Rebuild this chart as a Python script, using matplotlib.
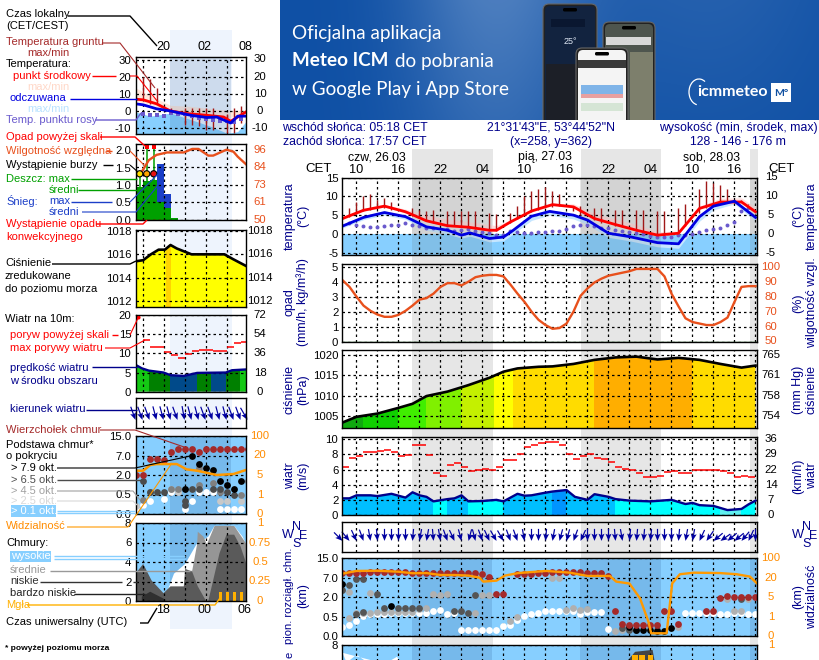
import numpy as np
import matplotlib
matplotlib.use('Agg')
import matplotlib.pyplot as plt
from matplotlib.patches import Rectangle, FancyBboxPatch, Polygon, Arc

plt.rcParams['font.family'] = ['Liberation Sans', 'DejaVu Sans']
plt.rcParams['font.size'] = 8.2
W, H = 820, 660

NAVY = '#00008b'; RED = '#ff0000'; BLUE = '#0000e0'; BROWN = '#a52a2a'
ORANGE_RED = '#e8501c'; ORANGE = '#ff8c00'; SKY = '#87cfff'; GREEN = '#00a000'

# ---------- main panel data (hours since 26.03 00:00 CET)
hours_long = list(range(8, 68))
temp_t = [8, 11, 14, 17, 20, 23, 26, 29, 30, 32, 35, 38, 41, 44, 47, 50, 53, 56, 59, 62, 65, 67]
temp_mid = [4.1, 6.3, 7.4, 5.9, 3.5, 2.2, 1.8, 1.0, 1.0, 3.2, 6.1, 7.8, 7.2, 4.1, 2.5, 1.0, -0.3, 0.2, 6.8, 8.5, 8.5, 5.9]
temp_hi = [4.6, 6.8, 7.8, 6.6, 5.0, 3.9, 3.3, 2.5, 2.2, 3.8, 6.6, 8.2, 8.0, 5.5, 4.0, 2.5, 0.6, 0.8, 7.4, 9.5, 9.6, 7.0]
temp_lo = [3.8, 6.0, 7.2, 5.5, 3.2, 2.0, 1.5, 0.8, 0.7, 3.0, 5.8, 7.5, 7.0, 3.9, 2.3, 0.8, -0.5, 0.0, 6.5, 8.0, 8.0, 5.6]
feel_t = [8, 11, 14, 17, 20, 23, 25, 26.2, 29, 31, 32.4, 35, 37.6, 41, 43, 46, 49, 53, 56, 59, 61, 64, 67]
feel = [2.1, 4.4, 5.7, 4.6, 1.9, 1.0, -0.3, 0.3, -1.2, -0.8, 1.0, 4.7, 6.0, 5.0, 3.7, 0.2, -0.7, -2.3, -2.6, 4.6, 7.4, 8.7, 4.4]
feel_hi = [2.5, 4.8, 6.1, 5.0, 2.3, 1.3, 0.2, 0.7, -0.8, -0.4, 1.4, 5.1, 6.4, 5.4, 4.1, 0.6, -0.3, -1.9, -2.2, 5.0, 7.8, 9.1, 4.8]
feel_lo = [1.6, 3.8, 5.0, 3.9, 1.0, 0.0, -1.1, -0.6, -2.1, -1.8, 0.0, 3.6, 5.0, 4.0, 2.5, -0.9, -1.8, -3.4, -3.8, 3.4, 6.4, 8.0, 3.4]
dew_t = [9, 10, 11, 12, 13, 14, 15, 16, 17, 18, 19, 20, 21, 23, 24, 25, 26, 27, 28, 29, 30, 31, 32, 33, 34, 35, 36, 37,
         38, 39, 40, 41, 42, 43, 44, 45, 46, 47, 48, 49, 50, 51, 52, 53, 54, 55, 56, 57, 58, 59, 60, 61, 62, 63, 64, 65, 66]
dew = [3.0, 2.5, 2.0, 1.9, 1.9, 2.0, 2.3, 2.5, 2.8, 2.5, 2.1, 1.5, 1.5, 1.3, 0.9, 1.1, 1.2, 0.9, 0.6, 0.2, -0.3, -0.3, 0.9, 0.6, 0.2, 0.2, 0.4, 0.6,
       0.7, 0.9, 1.3, 2.1, 2.5, 2.3, 2.1, 1.7, 1.5, 1.0, 0.7, 0.6, 0.2, -0.1, -0.4, -0.7, -0.9, -0.7, -0.3, -0.3, -0.1, 0.6, 1.0, 1.3, 1.7, 2.4, 3.2, 6.0, 6.8]
ground_t = [9, 10, 11, 12, 13, 14, 15, 18, 19, 20, 21, 23, 24, 25, 26, 27, 29, 30, 32, 33, 34, 35, 36, 37, 38, 39, 41, 42, 44, 45, 47, 48, 50, 51, 53, 54, 56, 57, 59, 60, 61, 62, 63, 64, 65, 66]
ground_max = [7, 8.5, 10, 10.5, 9, 9.5, 8.5, 7, 6.5, 6, 6.3, 6.2, 6, 6, 6, 6, 5.5, 5.3, 5.5, 7.5, 10, 11.5, 12, 12.5, 11.5, 10.5, 7.5, 7.5, 7, 7, 6.5, 6.5, 6.5, 6.5, 6, 6, 7, 8, 12, 14, 13.5, 13, 12, 9, 9, 8]
ground_min = [4.5, 5.5, 6, 6.5, 7, 7, 6.5, 4.8, 4.2, 3.6, 3, 2.2, 2, 1.8, 1.7, 1.4, 0.8, 0.8, 3, 4, 5, 5.8, 6.4, 7, 7.3, 7.4, 6, 5, 3.6, 3, 2.2, 1.8, 0.8, 0.4, -0.4, -0.4, 0.6, 2, 5.6, 6.8, 7.6, 8.2, 8.6, 8.6, 8.4, 7.6]
rh_t = list(range(8, 68))
rh_scaled = [4.1, 3.65, 3.0, 2.4, 2.05, 1.8, 1.65, 1.65, 1.78, 2.05, 2.4, 2.8, 2.9, 3.2, 3.65, 3.9, 3.9, 3.75, 4.0, 4.3, 4.4, 4.45, 4.45, 4.35, 3.8, 3.2, 2.65, 2.0, 1.45, 1.1, 0.85, 0.9, 1.2, 2.0, 3.05, 3.55, 3.95, 4.2, 4.4, 4.5, 4.6, 4.7, 4.85, 4.85, 4.85, 4.85, 4.35, 3.2, 2.35, 1.55, 1.3, 1.2, 1.1, 1.1, 1.3, 1.6, 2.65, 3.65, 3.7, 3.7]
press_t = [8, 10, 13, 16, 18, 20, 23, 26, 29, 31, 33, 36, 38, 41, 44, 47, 50, 53, 56, 59, 62, 65, 67]
press = [1003.4, 1004.8, 1005.6, 1007, 1008, 1009.9, 1011, 1012.6, 1014.4, 1015.9, 1016.7, 1017.1, 1017.2, 1017.8, 1018.8, 1019.4, 1019.6, 1018.9, 1019.3, 1018.8, 1017.8, 1016.9, 1017.4]
press_band_edges = [8, 11, 16, 20, 25, 29.6, 32.4, 44, 58, 67.3]
press_band_colors = ['#10a810', '#10d000', '#40ee00', '#80f000', '#c4f000', '#ffff00', '#ffdc00', '#ffae00', '#ffdc00']
wind_t = [8, 9, 10, 12, 13, 15, 17, 18, 19, 20, 21, 23, 24, 25, 26, 28, 30, 31, 33, 34, 35, 37, 38, 40, 41.2, 43, 44, 46, 47, 49, 52, 55, 57, 58, 59, 61, 63, 65, 66, 67]
wind = [2.2, 2.2, 2.6, 2.6, 2.5, 2.8, 2.3, 3.0, 2.6, 2.4, 1.8, 2.1, 2.2, 2.6, 1.8, 1.85, 2.0, 1.8, 2.8, 2.55, 2.6, 2.95, 3.1, 3.3, 2.4, 2.0, 2.75, 2.4, 2.1, 1.9, 1.8, 2.0, 1.45, 1.6, 1.3, 1.2, 0.65, 0.8, 1.4, 1.9]
wind_band_edges = [8, 21, 23, 26, 31, 38, 40, 47, 62, 65, 67.3]
wind_band_colors = ['#00bfff', '#00ffff', '#00bfff', '#00ffff', '#00bfff', '#0094ff', '#00bfff', '#00ffff', '#60f0f0', '#00ffff']
gust_t = list(range(8, 67))
gust = [6.4, 7.5, 7.8, 8.3, 8.3, 8.4, 8.6, 8.3, 7.8, 7.9, 9.3, 9.3, 7.9, 5.6, 5.1, 6.6, 6.9, 6.4, 5.8, 5.9, 6.1, 5.9, 6.4, 7.2, 7.2, 8.0, 9.0, 9.3, 9.5, 9.6, 9.6, 9.3, 8.1, 7.4, 7.8, 8.0, 7.5, 7.4, 7.0, 6.4, 6.1, 6.0, 5.6, 5.0, 5.0, 5.1, 5.7, 5.8, 5.5, 5.5, 5.9, 6.0, 6.0, 6.0, 5.8, 5.5, 5.0, 5.1, 5.0]
wind_dir = [315, 320, 335, 340, 350, 355, 0, 0, 0, 0, 5, 10, 10, 355, 350, 340, 335, 345, 15, 345, 340, 335, 330, 330, 340, 340, 350, 0, 0, 5, 10, 15, 15, 20, 25, 0, 0, 0, 0, 355, 350, 5, 5, 5, 5, 0, 0, 0, 5, 10, 10, 25, 35, 50, 55, 50, 50, 40, 25, 0]
tops_t = list(range(8, 30)) + [30, 31] + list(range(33, 57)) + [60, 61, 62, 63, 64, 65, 66, 67]
tops = [3.23, 3.22, 3.23, 3.26] + [3.3] * 6 + [3.24] * 9 + [3.24, 3.18, 3.06] + [2.16, 2.16] + [3.18, 3.18, 3.21, 3.26, 3.26] + [3.28, 3.28, 3.28, 3.31, 3.31, 3.26, 3.24, 3.23, 3.11, 1.27, 0.6, 0.55, 0.55, 0.55, 0.55, 0.55, 1.27, 1.27, 0.6] + [1.29, 1.29, 1.94, 2.04, 2.03, 2.03, 2.03, 2.03]
base_white_t = list(range(8, 25)) + [25, 26, 27, 28, 29, 30, 31, 32, 33, 34, 35, 36, 37, 38, 39, 40, 41, 42, 43, 44, 45, 46, 57, 58, 59, 60, 61, 62, 63, 64, 65, 66, 67]
base_white = [0.48, 0.57, 0.77, 1.01, 1.12, 1.12, 1.15, 1.17, 1.18, 1.18, 1.18, 1.18, 1.18, 1.29, 1.36, 1.15, 1.18, 0.29, 0.29, 0.29, 0.29, 0.29, 0.29, 0.53, 0.57, 0.82, 1.03, 1.15, 1.18, 1.30, 1.30, 1.30, 1.30, 1.30, 1.15, 1.25, 1.22, 1.22, 0.34, 1.18, 1.18, 1.18, 1.18, 1.18, 1.12, 1.12, 1.18, 1.19, 1.13, 1.13]
base_light_t = [8, 9, 9, 10, 11, 12, 12, 13, 14, 15, 16, 17, 18, 19, 20, 21, 22, 23, 27, 28, 29, 32, 33, 38, 39, 40, 41, 42, 43, 47, 48, 56, 63, 64, 65, 66]
base_light = [2.36, 2.28, 0.91, 1.19, 1.2, 2.21, 1.2, 1.25, 1.25, 1.25, 1.25, 1.25, 1.25, 1.39, 1.42, 2.18, 2.12, 2.15, 1.18, 2.11, 2.11, 0.79, 0.99, 3.01, 3.01, 1.34, 1.44, 1.34, 1.39, 0.27, 0.31, 0.48, 1.91, 1.29, 1.29, 1.91]
base_dark_t = [8, 9, 10, 11, 10, 11, 13, 14, 16, 17, 18, 19, 24, 25, 26, 27, 48, 49, 50, 53, 65]
base_dark = [2.36, 2.63, 2.94, 2.94, 1.12, 1.22, 2.15, 1.42, 1.42, 1.42, 1.42, 1.42, 1.29, 1.29, 1.20, 2.11, 0.39, 0.31, 0.31, 0.31, 1.91]
base_black_t = [8, 15, 49, 50, 51, 52, 53, 54, 55]
base_black = [2.67, 1.52, 0.48, 0.31, 0.31, 0.31, 0.27, 0.27, 0.43]
vis_t = [8, 10, 13, 16, 18, 20, 22, 24, 26, 27.6, 28.1, 30, 31.2, 33.1, 37.1, 40.5, 43, 46.2, 47.1, 49, 50.5, 51.7, 52.1, 54.3, 55.1, 56.2, 58.2, 61.9, 64.3, 66.2, 67.2]
vis = [3.21, 3.35, 3.36, 3.31, 3.23, 3.24, 3.14, 3.14, 3.11, 3.0, 2.8, 2.85, 3.11, 3.24, 3.35, 3.26, 3.09, 3.09, 2.8, 2.7, 1.94, 0.74, 0.14, 0.14, 2.71, 3.18, 3.26, 3.24, 3.18, 3.06, 2.71]
cl_white_t = [8, 8.6, 10, 11.6, 13.4, 14.6, 15.8, 16.2, 13.4]
cl_white = [7.2, 6.2, 7.0, 6.2, 6.2, 6.3, 6.8, 6.2, 6.2]
cl_low_t = [48.6, 49.8, 52.3, 52.6]
cl_low = [6.3, 7.3, 7.5, 6.3]
fog_t = [49.8, 50.8, 52]

# ---------- legend panel data (hours on the small sample axis)
lt_mid_t = [16, 17.1, 19, 21, 23.3, 26.2, 28.6, 29.6, 31.4, 31.8]
lt_mid = [6.9, 6.5, 4.2, 0, -1.5, -2.5, -3.5, -6, -1.5, -0.5]
lt_feel_t = [16, 17.1, 19, 21, 23.9, 26.2, 27.6, 29.6, 30.6, 31.8]
lt_feel = [4.2, 3.6, 1.3, 0, -2.5, -3.8, -3.5, -7, -3, -3]
lt_hi_t = [16, 18.1, 21, 23.9, 26.8, 29.1, 31.8]
lt_hi = [13.5, 9, 3.3, 2.7, 1.3, 0.4, 0.4]
lt_lo = [6, 4, -0.4, -2, -3, -4, -1.5]
lt_coldtop_t = [16, 18.1, 21, 23.9, 26.8, 29.1, 30.6, 31.8]
lt_coldtop = [-0.5, -3, -1.2, -5, -9, -13, -12, -6]
lt_dew_t = [17, 18, 19, 20, 21, 22, 23, 24, 25, 26, 27, 28, 29, 30, 31]
lt_dew = [-1.5, -2.1, -2.5, -2.7, -1.2, -1.5, -1.5, -3.1, -3.8, -4.4, -5.4, -6, -5.8, -6.4, -4.4]
lg_t = [17, 18, 19, 21, 23, 24, 25, 26, 27, 29, 30, 31]
lg_hi = [19.6, 18.6, 13.5, 1.5, 2, 1.5, 2, 1.5, 2, -1.5, 1.5, 2.7]
lg_lo = [7, 4.2, 4.2, -1, -8, -8, -9, -11, -11, -13, -13, -7]
lp_rh_t = [16, 16.9, 17.9, 19, 20.5, 22.9, 24.1, 25, 26.4, 27.1, 29, 30, 30.6, 31.8]
lp_rh = [1.29, 1.38, 1.71, 1.86, 1.93, 1.93, 2.03, 2.03, 1.84, 1.84, 2.01, 1.95, 1.81, 1.59]
lp_t = [16.5, 17.5, 18.5, 19.5, 20.5, 21.5]
lp_rain = [0.95, 1.10, 1.15, 0.52, 0.33, 0.05]
lp_snow = [0, 0, 0, 1.08, 0.42, 0]
lp_max_t = [16.6, 17.6, 18.6]
lp_max = [1.3, 2.05, 2.05]
lpr_t = [16, 17.1, 18.2, 19.3, 20.2, 21, 21.9, 24, 28.7, 29.9, 31.8]
lpr = [1015.4, 1015.5, 1016, 1016.4, 1016.4, 1016.8, 1016.5, 1016, 1016, 1015.6, 1015]
lw_t = [16, 16.9, 17.9, 20, 21, 22.9, 24.8, 28.9, 29.8, 31.8]
lw = [7, 6.1, 5.5, 5, 4.3, 4.1, 4.9, 5, 5.6, 5.8]
lw_edges = [16, 17.9, 20.9, 24.8, 26.8, 28.9, 30.9, 31.8]
lw_colors = ['#14c814', '#008000', '#004a8a', '#008000', '#004a8a', '#008000', '#14c814']
lg_start = [17, 18, 19, 20, 21, 22, 23, 24, 25, 26, 27, 28, 29, 30, 31]
lgust = [13.5, 11.6, 11.6, 10.4, 9.5, 8.7, 9.9, 10.5, 10.8, 10.8, 10.5, 10.5, 11.6, 12.7, 13]
ld_t = list(range(16, 33))
ld_dir = [340, 340, 340, 345, 345, 345, 340, 350, 345, 345, 340, 340, 345, 345, 340, 340, 330]
lc_vis_t = [16, 17.1, 18.1, 19, 21.9, 23.3, 24.8, 27.6, 30, 31.8]
lc_vis = [2.22, 2.22, 2.51, 2.56, 2.56, 2.29, 2.22, 2.0, 2.05, 2.26]
lc_tops_t = list(range(16, 33))
lc_tops = [1.99, 1.99, 2.84, 2.84, 2.77, 3.2, 3.32, 3.32, 3.32, 3.2, 3.32, 3.32, 3.32, 3.32, 3.32, 3.32, 3.32]
lc_white_t = [16, 17, 18, 20, 21, 24, 23, 25, 26, 27, 28, 29, 30, 31]
lc_white = [.24, .46, .68, .75, 1.11, .68, .24, 1.11, 1.11, 1.11, .24, .24, .24, .24]
lc_light_t = [16, 21, 22, 25, 28, 29, 31]
lc_light = [.41, 1.26, 1.11, 1.40, .68, .68, .68]
lc_mid_t = [17, 18, 21, 22, 25, 25, 27, 28, 31, 32]
lc_mid = [.72, 1.11, 1.26, 1.26, 2.34, 1.49, 1.60, 1.11, 1.0, 1.71]
lc_dark_t = [17, 18, 19, 20, 23, 23, 24, 25, 27, 28, 29, 30]
lc_dark = [1.69, 1.11, 1.11, 1.11, .68, .46, 1.26, 1.26, 1.26, 1.26, 1.11, 1.0]
lc_black_t = [23, 24, 25, 26, 27, 28, 29, 30, 31]
lc_black = [1.26, 2.97, 2.55, 2.38, 2.26, 1.71, 1.49, 1.26, 1.71]
lcl_high_t = [20.4, 21.5, 23.1, 24.7, 26.4, 27.3, 30.1, 31.3, 31.8, 31.8, 20.4]
lcl_high = [0.7, 2.8, 3.8, 5.8, 6.6, 7.7, 7.7, 6.6, 5.8, 0, 0]
lcl_mid_t = [23.1, 24.1, 24.8, 24.9, 25.7, 26.2, 27.3, 30.1, 31.8, 31.8, 23.1]
lcl_mid = [3.1, 3.1, 5.8, 7.1, 6.6, 5.8, 7.7, 7.7, 5.9, 0, 0]
lcl_low1_t = [16, 17.1, 18.3, 20, 21, 22.9, 23.1, 24.1, 24.9, 26, 26.4, 16]
lcl_low1 = [2.8, 3.8, 2.1, 0.8, 1.5, 1.5, 3.3, 3, 1.5, 0.1, 0, 0]
lcl_low2_t = [26.4, 28, 29, 30.1, 31, 31.8, 31.8, 26.4]
lcl_low2 = [0, 4.9, 6.8, 6.8, 5.6, 3.9, 0, 0]
lcl_vlow_t = [16.9, 18.1, 20, 20.2, 16.9]
lcl_vlow = [0.45, 0.95, 0.25, 0, 0]
lcl_fog_t = [28.1, 29.1, 30.1, 31.1]

# ---------- labels
rt_ticks = [15, 10, 5, 0, -5]
rp_ticks = [5, 4, 3, 2, 1, 0]
rh_labels = ['100', '90', '80', '70', '60', '50']
pr_ticks = [1020, 1015, 1010, 1005]
mmhg_labels = ['765', '761', '758', '754']
wd_ticks = [10, 8, 6, 4, 2, 0]
kmh_labels = ['36', '29', '22', '14', '7', '0']
lev_ticks = [4, 3, 2, 1, 0]
km_labels = ['15.0', '7.0', '2.0', '0.5', '0.0']
vis_labels = ['100', '20', '5', '1', '0']
time_tick_t = [10, 16, 22, 28, 34, 40, 46, 52, 58, 64]
time_tick_labels = ['10', '16', '22', '04', '10', '16', '22', '04', '10', '16']

fig = plt.figure(figsize=(W / 100, H / 100), dpi=100, facecolor='white')

bg = fig.add_axes([0, 0, 1, 1], zorder=-1)
bg.set_xlim(0, W); bg.set_ylim(H, 0); bg.axis('off')
top = fig.add_axes([0, 0, 1, 1], zorder=10, facecolor='none')
top.set_xlim(0, W); top.set_ylim(H, 0); top.axis('off')

# ---------- banner
yy, xx = np.mgrid[0:120, 0:540]
glow = np.exp(-(((xx - 215) / 90.0) ** 2)) * (1 - yy / 300.0)
glow2 = 0.35 * np.exp(-(((xx - 430) / 120.0) ** 2)) * (1 - yy / 200.0)
base = np.array([15, 80, 165]) / 255.0
hi = np.array([75, 125, 190]) / 255.0
mix = np.clip(glow + glow2, 0, 1)[..., None]
img = base * (1 - mix) + hi * mix
bg.imshow(img, extent=(280, 820, 120, 0), aspect='auto', zorder=0, interpolation='bilinear')
bg.set_xlim(0, W); bg.set_ylim(H, 0)
banner_clip = Rectangle((280, 0), 540, 120, transform=bg.transData)


def clipped(p):
    bg.add_patch(p)
    p.set_clip_path(banner_clip)
    return p


def phone(x0, y0, x1, y1, screen, z=1.0):
    clipped(FancyBboxPatch((x0, y0), x1 - x0, y1 - y0 + 20, boxstyle='round,pad=0,rounding_size=6', fc='#222222', ec='#666666', lw=0.8, zorder=z))
    clipped(FancyBboxPatch((x0 + 2, y0 + 2), x1 - x0 - 4, y1 - y0 + 18, boxstyle='round,pad=0,rounding_size=5', fc=screen, ec='none', zorder=z + 0.01))
    clipped(FancyBboxPatch(((x0 + x1) / 2 - 7, y0 + 4), 14, 3.5, boxstyle='round,pad=0,rounding_size=1.5', fc='black', ec='none', zorder=z + 0.02))


phone(543, 4, 597, 112, '#12233f', 1.0)
clipped(Rectangle((551, 19), 34, 8, fc='#0a1730', zorder=1.03))
bg.text(570, 42, '25°', color='#dfe8f5', fontsize=6.5, ha='center', va='center', zorder=1.04)
clipped(Rectangle((546, 64), 49, 56, fc='#1c1f27', zorder=1.03))
phone(603, 22, 655, 112, '#4e554e', 1.1)
clipped(Rectangle((606, 37), 45, 8, fc='#d8d8d8', zorder=1.13))
clipped(Rectangle((630, 52), 23, 68, fc='#7d7f6c', zorder=1.13))
phone(576, 48, 628, 112, '#f4f4f4', 1.2)
clipped(Rectangle((578, 60), 48, 8, fc='#3a3a3a', zorder=1.23))
clipped(Rectangle((581, 85), 42, 9, fc='#7fb4e8', zorder=1.23))
clipped(Rectangle((581, 94), 42, 4, fc='#e8a0a0', zorder=1.23))
clipped(Rectangle((581, 103), 42, 8, fc='#d5e5d5', zorder=1.23))
clipped(Rectangle((771, 83), 20, 19, fc='white', zorder=1.3))
bg.text(781, 93, 'M°', color='#0f4fa0', fontsize=7.5, weight='bold', ha='center', va='center', family='Lato', zorder=1.4)
bg.text(732, 92.5, 'icmmeteo', color='white', fontsize=11.5, weight='bold', ha='center', va='center', family='Lato', zorder=1.4)
bg.add_patch(Arc((699, 92), 20, 26, theta1=100, theta2=300, color='white', lw=0.9, zorder=1.4))
bg.text(292, 33, 'Oficjalna aplikacja', color='white', fontsize=13.6, family='Lato', va='center', zorder=2)
bg.text(292, 61, 'Meteo ICM', color='white', fontsize=13.6, family='Lato', weight='bold', va='center', zorder=2)
bg.text(395, 61, 'do pobrania', color='white', fontsize=13.6, family='Lato', va='center', zorder=2)
bg.text(292, 89, 'w Google Play i App Store', color='white', fontsize=13.6, family='Lato', va='center', zorder=2)

# ---------- night bands
for a, b in [(412.3, 492.7), (581, 660.7), (750, 758)]:
    bg.add_patch(Rectangle((a, 149), b - a, H - 149, fc='#e6e6e6', ec='none', zorder=0.5))
bg.add_patch(Rectangle((170, 30), 61.7, 599, fc='#eef4fd', ec='none', zorder=0.5))


def panel(x0, x1, ytop, ybot, t0, cal, ticks=None, labels=None, right=None, right_color='black', dx=14, vgrid=None, lcolor='black', t_per=7.0):
    ax = fig.add_axes([x0 / W, 1 - ybot / H, (x1 - x0) / W, (ybot - ytop) / H], facecolor='none', zorder=2)
    ax.set_xlim(t0, t0 + (x1 - x0) / t_per)
    v1, y1, v2, y2 = cal
    k = (v2 - v1) / (y2 - y1)
    ax.set_ylim(v1 + (ybot - y1) * k, v1 + (ytop - y1) * k)
    ax.set_xticks(vgrid)
    ax.tick_params(axis='x', length=0, labelbottom=False)
    ax.grid(axis='x', color='black', ls=(0, (2, 2.4)), lw=0.9)
    if ticks is not None:
        ax.set_yticks(ticks)
        ax.set_yticklabels(labels if labels else [str(v) for v in ticks], color=lcolor)
        ax.tick_params(axis='y', length=0, pad=3)
        ax.grid(axis='y', color='black', ls=(0, (2, 2.4)), lw=0.9)
    else:
        ax.set_yticks([])
    ax.set_axisbelow(False)
    for s in ax.spines.values():
        s.set_linewidth(1.0); s.set_zorder(6)
    if right:
        for v, lab in zip(ticks, right):
            ax.annotate(lab, xy=(1, v), xycoords=('axes fraction', 'data'), xytext=(dx, 0), textcoords='offset pixels', ha='center', va='center', color=right_color, annotation_clip=False)
    return ax


def curve_poly(ax, t, y, floor):
    pts = list(zip(t, y)) + [(t[-1], floor), (t[0], floor)]
    return Polygon(pts, closed=True, transform=ax.transData, fc='none', ec='none')


def bands(ax, t, y, edges, colors, floor):
    clip = curve_poly(ax, t, y, floor)
    ax.add_patch(clip)
    for a, b, c in zip(edges[:-1], edges[1:], colors):
        r = ax.axvspan(a, b, color=c, lw=0, zorder=1)
        r.set_clip_path(clip)


# ========== right column
RX0, RX1 = 342.5, 757
vg = list(range(10, 68, 3))
night_r = [(18, 29.4), (42, 53.5), (66.2, 67.3)]

ax = panel(RX0, RX1, 177.5, 255, 8, (15, 177.5, 0, 234), rt_ticks, None, [str(v) for v in rt_ticks], 'black', 14, vg)
ax.axhspan(-6, 0, color=SKY, lw=0, zorder=0.8)
ax.fill_between(feel_t, feel_lo, feel_hi, color='#c6e6ff', lw=0, zorder=1)
ax.fill_between(temp_t, temp_lo, temp_hi, color='#ffd9d9', alpha=0.85, lw=0, zorder=1.1)
for a, b in night_r:
    ax.axvspan(a, b, color='#606060', alpha=0.14, lw=0, zorder=1.2)
ax.vlines(ground_t, ground_min, ground_max, color='#a01818', lw=1.0, zorder=3)
ax.scatter(dew_t, dew, s=8, color='#6a5acd', lw=0, zorder=3)
ax.plot(temp_t, temp_mid, color=RED, lw=2, zorder=4)
ax.plot(feel_t, feel, color=BLUE, lw=2, zorder=4)

ax = panel(RX0, RX1, 264, 341.7, 8, (5, 266.7, 0, 341.5), rp_ticks, None, rh_labels, ORANGE_RED, 14, vg)
ax.plot(rh_t, rh_scaled, color=ORANGE_RED, lw=1.7, zorder=4)
ax.plot([8, 67.2], [0, 0], color='#2e7d32', lw=1, zorder=5)

ax = panel(RX0, RX1, 350.3, 428.3, 8, (1020, 355, 1005, 416), pr_ticks, None, mmhg_labels, 'black', 14, vg)
bands(ax, press_t, press, press_band_edges, press_band_colors, 1000)
ax.plot(press_t, press, color='black', lw=1.9, zorder=4)

ax = panel(RX0, RX1, 437.3, 515, 8, (10, 439.3, 0, 515), wd_ticks, None, kmh_labels, 'black', 14, vg)
bands(ax, wind_t, wind, wind_band_edges, wind_band_colors, 0)
ax.plot(wind_t, wind, color=NAVY, lw=1.7, zorder=4)
ax.hlines(gust, gust_t, np.array(gust_t) + 1, color=RED, lw=1.1, zorder=4)

ax = panel(RX0, RX1, 521.7, 551.7, 8, (1, 521.7, 0, 551.7), None, None, None, 'black', 14, vg)
rad = np.radians(wind_dir)
ax.quiver(hours_long, [0.36] * len(hours_long), -np.sin(rad), -np.cos(rad), angles='uv', pivot='tip', units='dots', scale_units='dots', scale=1 / 12.0, width=1.2, headwidth=5, headlength=6, headaxislength=5, color='#0000a0', zorder=4, clip_on=False)

ax = panel(RX0, RX1, 558.3, 636, 8, (4, 558.3, 0, 636), lev_ticks, km_labels, vis_labels, ORANGE, 14, vg)
ax.axhspan(0, 4, color=SKY, lw=0, zorder=0.8)
for a, b in night_r:
    ax.axvspan(a, b, color='#3a6ea5', alpha=0.22, lw=0, zorder=1)
ds = 24
ax.scatter(base_white_t, base_white, s=ds, color='white', lw=0, zorder=3)
ax.scatter(base_light_t, base_light, s=ds, color='#b0b0b0', lw=0, zorder=3.1)
ax.scatter(base_dark_t, base_dark, s=ds, color='#555555', lw=0, zorder=3.2)
ax.scatter(base_black_t, base_black, s=ds, color='black', lw=0, zorder=3.3)
ax.scatter(tops_t, tops, s=ds, color=BROWN, lw=0, zorder=3.4)
ax.plot(vis_t, vis, color='#ff9900', lw=1.7, zorder=4)

ax = panel(RX0, RX1, 645, 723, 8, (8, 645, 0, 723), [8], None, ['1'], ORANGE, 14, vg)
ax.axhspan(0, 8, color=SKY, lw=0, zorder=0.8)
for a, b in night_r:
    ax.axvspan(a, b, color='#3a6ea5', alpha=0.22, lw=0, zorder=1)
ax.fill(cl_white_t, cl_white, color='white', lw=0, zorder=1.5)
ax.fill(cl_low_t, cl_low, color='#444444', lw=0, zorder=1.6)
ax.bar(fog_t, [7.0] * len(fog_t), width=0.8, color='#ffb000', zorder=3)

# ========== left column
LX0, LX1 = 135.5, 245.5
lv = list(range(17, 32, 3))
night_l = (20.9, 29.6)

ax = panel(LX0, LX1, 57, 134, 16, (30, 59.5, 0, 111), [30, 20, 10, 0, -10], None, ['30', '20', '10', '0', '-10'], 'black', 14.5, lv)
ax.fill_between(lt_hi_t, lt_lo, lt_hi, color='#ffe6da', lw=0, zorder=0.8)
ax.fill_between(lt_coldtop_t, lt_coldtop, -14, color=SKY, lw=0, zorder=1)
ax.axvspan(*night_l, color='#3a6ea5', alpha=0.18, lw=0, zorder=1.2)
ax.vlines(lg_t, lg_lo, lg_hi, color='#a01818', lw=1.0, zorder=3)
ax.scatter(lt_dew_t, lt_dew, s=8, marker='s', color='#6a5acd', lw=0, zorder=3)
ax.plot(lt_mid_t, lt_mid, color=RED, lw=2, zorder=4)
ax.plot(lt_feel_t, lt_feel, color=BLUE, lw=2, zorder=4)

ax = panel(LX0, LX1, 144, 220, 16, (2, 150, 0, 220), [2.0, 1.5, 1.0, 0.5, 0.0], ['2.0', '1.5', '1.0', '0.5', '0.0'], ['96', '84', '73', '61', '50'], ORANGE_RED, 14.5, lv)
ax.bar(lp_t, lp_rain, width=1, color=GREEN, lw=0, zorder=1)
ax.bar(lp_t, lp_snow, bottom=lp_rain, width=1, color='#1c3fc8', lw=0, zorder=1)
ax.vlines(lp_max_t, lp_rain[:3], lp_max, color=GREEN, lw=1.1, zorder=3)
ax.vlines([19.2], [1.08], [1.38], color='#1c3fc8', lw=1, zorder=3)
ax.scatter([17.6, 18.6], [2.08, 2.08], s=11, marker='s', color=RED, lw=0, zorder=5, clip_on=False)
ax.scatter([16.6, 17.6, 18.6], [1.32, 1.32, 1.32], s=20, color=['#ffe000', '#ffa500', '#e81010'], edgecolor='black', lw=0.8, zorder=5)
ax.plot(lp_rh_t, lp_rh, color=ORANGE_RED, lw=1.7, zorder=4)
ax.hlines([0.01], [16], [20], color=RED, lw=1, ls=(0, (2, 2)), zorder=5)

ax = panel(LX0, LX1, 229.7, 306.7, 16, (1018, 231, 1012, 301), [1018, 1016, 1014, 1012], None, ['1018', '1016', '1014', '1012'], 'black', 14.5, lv)
bands(ax, lpr_t, lpr, [16, 20.3, 21, 31.8], ['#ffff00', '#ffd400', '#ffff00'], 1010)
ax.plot(lpr_t, lpr, color='black', lw=1.9, zorder=4)

ax = panel(LX0, LX1, 315, 391.7, 16, (20, 315, 0, 391.7), [20, 15, 10, 5, 0], None, ['72', '54', '36', '18', '0'], 'black', 14.5, lv)
bands(ax, lw_t, lw, lw_edges, lw_colors, 0)
ax.plot(lw_t, lw, color=NAVY, lw=1.7, zorder=4)
ax.hlines(lgust, lg_start, np.array(lg_start) + 1, color=RED, lw=1.1, zorder=4)
ax.scatter([16.4], [19.6], s=9, color=RED, lw=0, zorder=5, clip_on=False)

ax = panel(LX0, LX1, 398, 428, 16, (1, 398, 0, 428), None, None, None, 'black', 14.5, lv)
rad = np.radians(ld_dir)
ax.quiver(ld_t, [0.27] * len(ld_t), -np.sin(rad), -np.cos(rad), angles='uv', pivot='tip', units='dots', scale_units='dots', scale=1 / 14.0, width=1.2, headwidth=5, headlength=6, headaxislength=5, color='#0000a0', zorder=4, clip_on=False)

ax = panel(LX0, LX1, 436, 514, 16, (4, 436, 0, 514), lev_ticks, km_labels, vis_labels, ORANGE, 14.5, lv)
ax.axhspan(0, 4, color=SKY, lw=0, zorder=0.8)
ax.axvspan(*night_l, color='#3a6ea5', alpha=0.22, lw=0, zorder=1)
ax.scatter(lc_white_t, lc_white, s=ds, color='white', lw=0, zorder=3)
ax.scatter(lc_light_t, lc_light, s=ds, color='#c8c8c8', lw=0, zorder=3.1)
ax.scatter(lc_mid_t, lc_mid, s=ds, color='#808080', lw=0, zorder=3.2)
ax.scatter(lc_dark_t, lc_dark, s=ds, color='#4c4c4c', lw=0, zorder=3.3)
ax.scatter(lc_black_t, lc_black, s=ds, color='black', lw=0, zorder=3.4)
ax.scatter(lc_tops_t, lc_tops, s=ds, color=BROWN, lw=0, zorder=3.5)
ax.plot(lc_vis_t, lc_vis, color='#ff9900', lw=1.8, zorder=4)

ax = panel(LX0, LX1, 523, 601, 16, (8, 523, 0, 601), [8, 6, 4, 2, 0], None, ['1', '0.75', '0.5', '0.25', '0'], ORANGE, 14.5, lv)
ax.axhspan(0, 8, color=SKY, lw=0, zorder=0.8)
ax.axvspan(*night_l, color='#3a6ea5', alpha=0.22, lw=0, zorder=0.9)
ax.fill(lcl_high_t, lcl_high, color='white', lw=0, zorder=1)
ax.fill(lcl_mid_t, lcl_mid, color='#969696', lw=0, zorder=1.1)
ax.fill(lcl_low1_t, lcl_low1, color='#5a5a5a', lw=0, zorder=1.2)
ax.fill(lcl_low2_t, lcl_low2, color='#5a5a5a', lw=0, zorder=1.2)
ax.fill(lcl_vlow_t, lcl_vlow, color='#303030', lw=0, zorder=1.3)
ax.bar(lcl_fog_t, [0.95] * 4, width=0.45, color='#ffb000', lw=0, zorder=3)


# ========== text and leader lines (pixel coordinates)
def T(x, y, s, c='black', **kw):
    kw.setdefault('va', 'center')
    top.text(x, y, s, color=c, **kw)


def L(xs, ys, c='black', lw=1.0):
    top.plot(xs, ys, color=c, lw=lw, solid_capstyle='butt', zorder=1)


lab_size = 8.0
for x, y, s, c in [
    (6, 14, 'Czas lokalny', 'black'), (6, 26, '(CET/CEST)', 'black'),
    (6, 42, 'Temperatura gruntu', BROWN), (27, 52.5, 'max/min', BROWN),
    (6, 64, 'Temperatura:', 'black'), (13, 76, 'punkt środkowy', RED), (27, 86.5, 'max/min', '#ffd8c8'),
    (10, 98, 'odczuwana', BLUE), (27, 108.5, 'max/min', '#b8e2ff'), (6, 120, 'Temp. punktu rosy', '#6a5acd'),
    (6, 137, 'Opad powyżej skali', RED), (6, 151, 'Wilgotność względna', ORANGE_RED), (6, 165, 'Wystąpienie burzy', 'black'),
    (6, 179, 'Deszcz: max', GREEN), (49, 190, 'średni', GREEN), (6, 201, 'Śnieg:', '#1c3fc8'), (49, 201, 'max', '#1c3fc8'), (49, 212, 'średni', '#1c3fc8'),
    (6, 224, 'Wystąpienie opadu', RED), (6, 237, 'konwekcyjnego', RED),
    (5, 263, 'Ciśnienie', 'black'), (5, 276, 'zredukowane', 'black'), (5, 289, 'do poziomu morza', 'black'),
    (5, 319, 'Wiatr na 10m:', 'black'), (10, 335, 'poryw powyżej skali', RED), (10, 348, 'max porywy wiatru', RED),
    (10, 368, 'prędkość wiatru', NAVY), (10, 381, 'w środku obszaru', NAVY), (10, 409, 'kierunek wiatru', NAVY),
    (6, 430, 'Wierzchołek chmur', BROWN), (6, 445, 'Podstawa chmur*', 'black'), (6, 456, 'o pokryciu', 'black'),
    (11, 468, '> 7.9 okt.', 'black'), (11, 480, '> 6.5 okt.', '#4c4c4c'), (11, 491, '> 4.5 okt.', '#a0a0a0'), (11, 501, '> 2.5 okt.', '#d8d8d8'),
    (6, 526, 'Widzialność', ORANGE), (6, 543, 'Chmury:', 'black'), (10, 570, 'średnie', '#999999'), (10, 581, 'niskie', '#333333'), (10, 593, 'bardzo niskie', '#222222'),
    (6, 605, 'Mgła', '#ffb000'), (6, 622, 'Czas uniwersalny (UTC)', 'black')]:
    T(x, y, s, c, fontsize=lab_size)
top.add_patch(Rectangle((11, 505), 45, 12, fc=SKY, ec='none'))
T(11, 511, '> 0.1 okt.', 'white', fontsize=lab_size)
top.add_patch(Rectangle((10, 551), 41, 11, fc=SKY, ec='none'))
T(11, 556, 'wysokie', 'white', fontsize=lab_size)
T(5, 648, '* powyżej poziomu morza', 'black', fontsize=6.1, weight='bold')

L([68, 130, 157], [16, 16, 46])
L([102, 120, 155], [43, 43, 88], BROWN, 0.8)
L([92, 116], [76, 76], RED); L([130, 137, 158], [76, 76, 102], RED, 0.8)
L([70, 137], [99, 99], BLUE)
L([95, 136, 141], [120, 120, 113], '#6a5acd')
L([100, 135, 145], [137, 137, 146], RED)
L([106, 112], [151, 151], ORANGE_RED); L([130, 144], [151, 165], ORANGE_RED, 0.8)
L([103, 113], [165, 165]); L([130, 138], [165, 172], 'black', 0.8)
L([71, 137], [179, 179], GREEN); L([78, 137], [190, 190], GREEN)
L([71, 112], [202, 202], '#1c3fc8'); L([130, 160], [202, 172], '#1c3fc8', 0.8)
L([82, 136, 160], [212, 212, 183], '#1c3fc8', 0.8)
L([96, 143, 147], [224, 224, 220], RED)
L([52, 130, 136], [264, 264, 261])
L([112, 118], [335, 335], RED); L([130, 139], [335, 316], RED, 0.8)
L([105, 130, 145], [348, 348, 340], RED, 0.8)
L([92, 137], [367, 367], NAVY)
L([86, 137], [410, 410], NAVY)
L([100, 135, 184], [430, 430, 447], BROWN, 0.8)
L([57, 135, 190], [468, 468, 456], 'black', 0.8)
L([57, 143], [480, 480], '#4c4c4c')
L([57, 133, 140], [491, 491, 500], '#a0a0a0', 0.8)
L([57, 133, 137], [501, 501, 505], '#d8d8d8', 0.8)
L([57, 135], [510.5, 510.5], SKY); L([57, 135], [513, 513], SKY)
L([67, 128, 172], [527, 527, 463], '#ff9900', 0.8)
L([54, 185], [556, 556], SKY); L([54, 185], [558.5, 558.5], SKY)
L([50, 190], [571, 571], '#999999')
L([40, 122], [582, 582], '#333333'); L([133, 137], [582, 582], '#333333')
L([74, 145], [594, 594], '#222222')
L([27, 215, 220], [605, 605, 598], '#ffb000')
L([140, 148, 157], [623, 623, 608])

# left column time labels
for x, s in [(163.5, '20'), (205, '02'), (245, '08')]:
    T(x, 47.5, s, 'black', ha='center', fontsize=9)
for x, s in [(163.5, '18'), (205, '00'), (245, '06')]:
    T(x, 610, s, 'black', ha='center', fontsize=9)

# header
hs = 8.8
T(282, 128, 'wschód słońca: 05:18 CET', NAVY, fontsize=hs)
T(283, 142, 'zachód słońca: 17:57 CET', NAVY, fontsize=hs)
T(551, 128, '21°31\'43"E, 53°44\'52"N', NAVY, fontsize=hs, ha='center')
T(551, 142, '(x=258, y=362)', NAVY, fontsize=hs, ha='center')
T(738, 128, 'wysokość (min, środek, max)', NAVY, fontsize=hs, ha='center')
T(738, 142, '128 - 146 - 176 m', NAVY, fontsize=hs, ha='center')
T(377, 157, 'czw, 26.03', 'black', fontsize=hs, ha='center')
T(545, 157, 'pią, 27.03', 'black', fontsize=hs, ha='center')
T(712, 157, 'sob, 28.03', 'black', fontsize=hs, ha='center')
T(319, 169, 'CET', 'black', fontsize=9.5, ha='center')
T(782, 169, 'CET', 'black', fontsize=9.5, ha='center')
for t, s in zip(time_tick_t, time_tick_labels):
    T(RX0 + (t - 8) * 7, 170, s, 'black', fontsize=9.2, ha='center')

# rotated axis titles
for y, a, b in [(216, 'temperatura', '(°C)'), (302, 'opad', '(mm/h, kg/m³/h)'), (390, 'ciśnienie', '(hPa)'), (476, 'wiatr', '(m/s)')]:
    T(290, y, a, NAVY, fontsize=9, rotation=90, ha='center')
    T(303, y, b, NAVY, fontsize=9, rotation=90, ha='center')
T(289, 596, 'pion. rozciągł. chm.', NAVY, fontsize=8, rotation=90, ha='center')
T(303, 596, '(km)', NAVY, fontsize=9, rotation=90, ha='center')
T(290, 655, 'e', NAVY, fontsize=8, rotation=90, ha='center')
for y, a, b in [(216, 'temperatura', '(°C)'), (303, 'wilgotność wzgl.', '(%)'), (390, 'ciśnienie', '(mm Hg)'), (476, 'wiatr', '(km/h)'), (597, 'widzialność', '(km)')]:
    T(812, y, a, NAVY, fontsize=9, rotation=90, ha='center')
    T(798, y, b, NAVY, fontsize=9, rotation=90, ha='center')
# compass
for x0 in (283, 793):
    T(x0 + 5, 535, 'W', NAVY, fontsize=9, ha='center')
    T(x0 + 14, 527, 'N', NAVY, fontsize=9, ha='center')
    T(x0 + 20, 536, 'E', NAVY, fontsize=9, ha='center')
    T(x0 + 14, 544, 'S', NAVY, fontsize=9, ha='center')

fig.savefig('out.png', dpi=100)
